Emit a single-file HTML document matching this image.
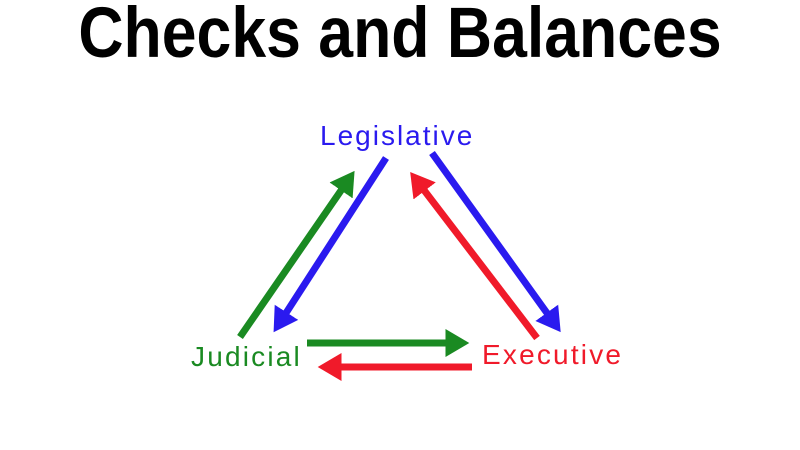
<!DOCTYPE html>
<html><head><style>
html,body{margin:0;padding:0;background:#fff;width:800px;height:450px;overflow:hidden;position:relative}
.t{position:absolute;font-family:"Liberation Sans",sans-serif;white-space:nowrap}
</style></head><body>
<div class="t" style="left:0;width:800px;text-align:center;top:-6px;font-size:68px;font-weight:bold;color:#000;transform:scale(0.92,1.05)">Checks and Balances</div>
<div class="t" style="left:320px;top:120px;font-size:28px;letter-spacing:2px;color:#2a1aef">Legislative</div>
<div class="t" style="left:191px;top:341px;font-size:28px;letter-spacing:2.2px;color:#1a8a22">Judicial</div>
<div class="t" style="left:482px;top:339px;font-size:28px;letter-spacing:2.2px;color:#f01a2a">Executive</div>
<svg width="800" height="450" style="position:absolute;left:0;top:0">
<defs>
<marker id="g" markerWidth="4" markerHeight="4" refX="2.5" refY="2" orient="auto" markerUnits="strokeWidth"><path d="M0,0 L3.4,2 L0,4 z" fill="#1a8a22"/></marker>
<marker id="b" markerWidth="4" markerHeight="4" refX="2.5" refY="2" orient="auto" markerUnits="strokeWidth"><path d="M0,0 L3.4,2 L0,4 z" fill="#2a1aef"/></marker>
<marker id="r" markerWidth="4" markerHeight="4" refX="2.5" refY="2" orient="auto" markerUnits="strokeWidth"><path d="M0,0 L3.4,2 L0,4 z" fill="#f01a2a"/></marker>
</defs>
<g stroke-width="7" fill="none">
<line x1="240" y1="337" x2="351" y2="176" stroke="#1a8a22" marker-end="url(#g)"/>
<line x1="386" y1="158" x2="277" y2="327" stroke="#2a1aef" marker-end="url(#b)"/>
<line x1="537" y1="338" x2="414" y2="177" stroke="#f01a2a" marker-end="url(#r)"/>
<line x1="432" y1="153" x2="557" y2="327" stroke="#2a1aef" marker-end="url(#b)"/>
<line x1="307" y1="343" x2="463" y2="343" stroke="#1a8a22" marker-end="url(#g)"/>
<line x1="472" y1="367" x2="324" y2="367" stroke="#f01a2a" marker-end="url(#r)"/>
</g>
</svg>
</body></html>
